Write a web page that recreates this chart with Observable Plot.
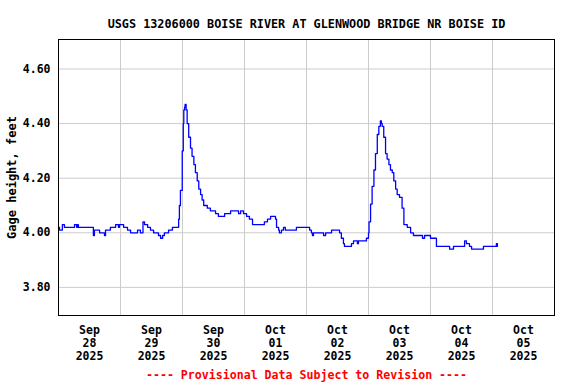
<!DOCTYPE html>
<html>
<head>
<meta charset="utf-8">
<script src="https://cdn.jsdelivr.net/npm/d3@7"></script>
<script src="https://cdn.jsdelivr.net/npm/@observablehq/plot@0.6"></script>
<style>
  html, body { margin: 0; padding: 0; background: #fff; }
</style>
</head>
<body>
<div id="chart"></div>
<script>
// Hours since 2025-09-28 00:00 and gage height (feet)
const hours = [0.0,0.4,1.5,2.3,5.8,6.2,7.0,7.4,7.7,13.2,13.5,13.9,15.5,15.9,17.8,18.2,20.1,22.1,23.2,23.6,25.2,26.7,27.9,30.6,31.7,32.5,32.7,33.3,34.5,35.6,36.8,38.7,39.5,40.3,41.0,42.6,44.1,46.1,46.5,46.8,47.2,47.9,48.3,48.5,48.8,49.0,49.4,49.8,50.4,51.1,51.7,52.4,53.0,53.7,54.3,55.0,55.6,56.2,57.6,58.8,60.8,61.9,63.5,64.3,65.8,66.6,68.9,69.7,70.5,71.6,72.8,73.9,75.1,79.0,79.7,80.9,82.1,83.2,84.0,84.4,85.2,85.5,86.3,87.1,87.8,91.7,92.1,96.4,97.2,97.9,98.3,98.7,102.2,102.6,103.4,105.3,105.7,108.0,108.8,109.5,110.3,110.7,112.6,113.4,114.2,115.7,116.1,118.8,119.2,120.0,120.2,120.8,121.4,122.1,122.7,123.4,124.0,124.6,125.0,125.3,125.9,126.6,127.2,127.9,128.5,129.2,129.8,130.5,131.1,132.0,133.0,133.7,135.0,136.3,137.4,140.1,140.9,141.7,144.0,145.9,146.3,151.0,151.4,152.5,152.9,156.8,157.2,157.9,159.1,159.9,164.5,169.2,169.5,169.9];
const gage = [4.02,4.01,4.03,4.02,4.02,4.03,4.02,4.03,4.02,4.02,3.99,4.01,4.01,4.00,3.99,4.01,4.02,4.03,4.02,4.03,4.02,4.01,4.00,4.01,4.00,4.00,4.04,4.03,4.02,4.01,4.00,3.99,3.98,3.99,4.00,4.01,4.02,4.02,4.05,4.10,4.155,4.30,4.40,4.45,4.46,4.47,4.45,4.40,4.35,4.31,4.28,4.25,4.22,4.19,4.16,4.14,4.12,4.10,4.09,4.08,4.07,4.06,4.06,4.07,4.07,4.08,4.08,4.07,4.08,4.07,4.06,4.05,4.03,4.03,4.04,4.05,4.06,4.06,4.05,4.02,4.01,4.00,4.01,4.02,4.01,4.01,4.02,4.02,4.01,4.00,3.99,4.00,4.00,3.99,4.00,4.00,4.01,4.01,4.00,3.98,3.96,3.95,3.95,3.96,3.97,3.96,3.97,3.97,3.98,4.00,4.04,4.105,4.17,4.23,4.29,4.36,4.39,4.41,4.40,4.39,4.35,4.29,4.27,4.25,4.23,4.22,4.19,4.16,4.14,4.13,4.09,4.03,4.02,4.00,3.99,3.99,3.98,3.99,3.98,3.98,3.95,3.95,3.94,3.94,3.95,3.95,3.97,3.96,3.95,3.94,3.95,3.95,3.96,3.95];

const yTicks = [3.80, 4.00, 4.20, 4.40, 4.60];
const tickDays = ["2025-09-28","2025-09-29","2025-09-30","2025-10-01","2025-10-02","2025-10-03","2025-10-04","2025-10-05"];
const tickMonths = ["Sep","Sep","Sep","Oct","Oct","Oct","Oct","Oct"];
const tickDayNums = ["28","29","30","01","02","03","04","05"];
const tickYears = ["2025","2025","2025","2025","2025","2025","2025","2025"];
const titleText = "USGS 13206000 BOISE RIVER AT GLENWOOD BRIDGE NR BOISE ID";
const yLabel = "Gage height, feet";
const captionText = "---- Provisional Data Subject to Revision ----";

const start = Date.UTC(2025, 8, 28);
const HOUR = 3600e3;
const data = hours.map((h, i) => ({t: new Date(start + h * HOUR), v: gage[i]}));
const midnights = d3.range(0, 9).map(d => new Date(start + d * 24 * HOUR));
const ticks = tickDays.map((s, i) => ({
  t: new Date(Date.parse(s + "T12:00:00Z")),
  label: tickMonths[i] + "\n" + tickDayNums[i] + "\n" + tickYears[i]
}));

const font = "'DejaVu Sans Mono', monospace";

const chart = Plot.plot({
  width: 576,
  height: 384,
  marginTop: 39,
  marginBottom: 69,
  marginLeft: 58,
  marginRight: 22,
  style: {fontFamily: font, fontSize: "11.5px", fontWeight: "bold", background: "#fff"},
  x: {type: "utc", domain: [new Date(start), new Date(start + 8 * 24 * HOUR)], axis: null},
  y: {domain: [3.697, 4.708], axis: null},
  marks: [
    Plot.ruleX(midnights, {x: d => d, stroke: "#cccccc", strokeWidth: 1}),
    Plot.ruleY(yTicks, {y: d => d, stroke: "#cccccc", strokeWidth: 1}),
    Plot.line(data, {x: "t", y: "v", stroke: "#0000ff", strokeWidth: 1.3, curve: "step-after"}),
    Plot.frame({stroke: "black", strokeWidth: 1}),
    Plot.text(yTicks, {y: d => d, text: d => d.toFixed(2), frameAnchor: "left", textAnchor: "end", dx: -8, fill: "black"}),
    Plot.text(ticks, {x: "t", text: "label", frameAnchor: "bottom", lineAnchor: "top", dy: 9, lineHeight: 1.15, fill: "black"}),
    Plot.text([yLabel], {text: d => d, frameAnchor: "left", textAnchor: "middle", rotate: -90, dx: -46, fill: "black", fontSize: 12}),
    Plot.text([titleText], {text: d => d, frameAnchor: "top", dy: -20, fontSize: 11.8, fill: "black"}),
    Plot.text([captionText], {text: d => d, frameAnchor: "bottom", dy: 63, fill: "#ff0000", fontSize: 11.6})
  ]
});
document.getElementById("chart").appendChild(chart);
</script>
</body>
</html>
